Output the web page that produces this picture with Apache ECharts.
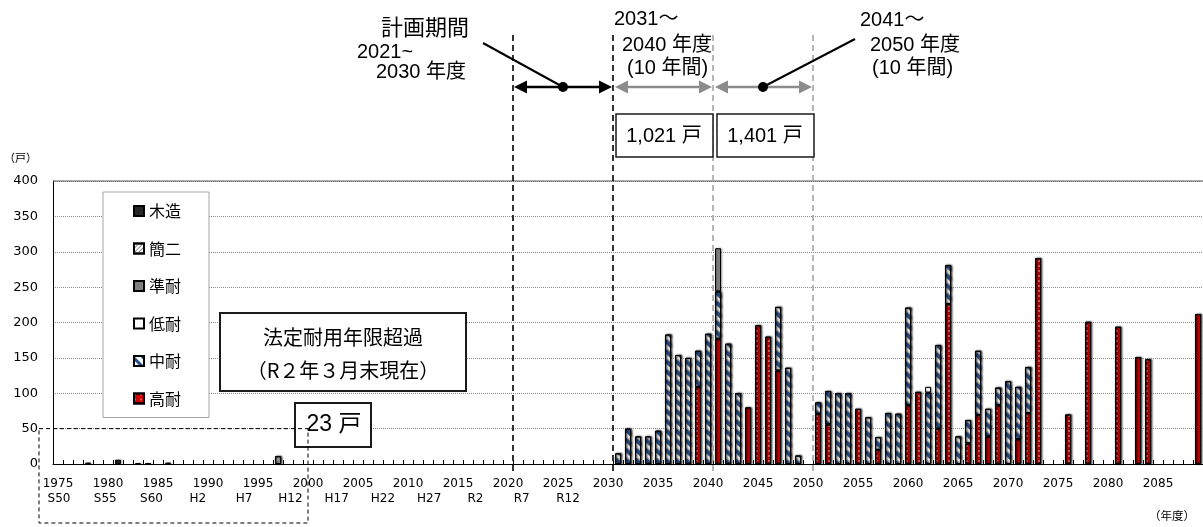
<!DOCTYPE html>
<html>
<head>
<meta charset="utf-8">
<script src="https://cdn.jsdelivr.net/npm/echarts@6/dist/echarts.min.js"></script>
<style>
  html, body { margin: 0; padding: 0; background: #fff; }
  #chart { width: 1203px; height: 527px; }
</style>
</head>
<body>
<div id="chart"></div>
<script>
// ---- data -------------------------------------------------------------
const firstYear = 1975;
const lastYear = 2089;
const years = [];
for (let y = firstYear; y <= lastYear; y++) years.push(String(y));

// Japanese era labels shown under every fifth year (1975 … 2030)
const eraLabels = ['S50', 'S55', 'S60', 'H2', 'H7', 'H12', 'H17', 'H22', 'H27', 'R2', 'R7', 'R12'];

// dwellings reaching the end of their statutory service life, by fiscal year
const mokuzou = { 1978: 2, 1981: 6, 1983: 1, 1984: 1, 1986: 2 };          // 木造
const kanni = { 1997: 11 };                                                 // 簡二
const juntai = { 2041: 61 };                                                // 準耐
const teitai = { 2062: 8 };                                                 // 低耐
const chutai = {                                                            // 中耐
  2031: 15, 2032: 50, 2033: 39, 2034: 39, 2035: 47, 2036: 183, 2037: 154, 2038: 150,
  2039: 51, 2040: 184, 2041: 67, 2042: 170, 2043: 100, 2047: 90, 2048: 136, 2049: 12,
  2051: 16, 2052: 47, 2053: 100, 2054: 100, 2056: 66, 2057: 18, 2058: 72, 2059: 71,
  2060: 138, 2062: 101, 2063: 118, 2064: 55, 2065: 39, 2066: 33, 2067: 91, 2068: 39,
  2069: 25, 2070: 117, 2071: 74, 2072: 65
};
const kotai = {                                                             // 高耐
  2039: 109, 2041: 177, 2044: 80, 2045: 196, 2046: 180, 2047: 132,
  2051: 71, 2052: 56, 2055: 78, 2057: 20, 2060: 83, 2061: 102, 2063: 50, 2064: 226,
  2066: 29, 2067: 69, 2068: 39, 2069: 83, 2071: 35, 2072: 72, 2073: 291,
  2076: 70, 2078: 201, 2081: 194, 2083: 151, 2084: 148, 2089: 212
};

const yTicks = { min: 0, max: 400, step: 50 };
const periodTotals = ['1,021 戸', '1,401 戸'];
const pastTotal = '23 戸';

// ---- styles -------------------------------------------------------------
const NUM_FONT = "'Liberation Sans','Noto Sans CJK JP',sans-serif";
const JP_FONT = "'Noto Sans CJK JP','Liberation Sans',sans-serif";
const AXIS_FONT = "'DejaVu Sans',sans-serif";

const toData = map => years.map(y => (map[y] != null ? map[y] : null));

const baseItem = {
  borderColor: '#000',
  borderWidth: 1,
  shadowColor: 'rgba(0,0,0,0.35)',
  shadowBlur: 2,
  shadowOffsetX: 1
};

function barSeries(name, map, item) {
  return {
    name,
    type: 'bar',
    stack: 'total',
    barWidth: 6,
    data: toData(map),
    itemStyle: Object.assign({}, baseItem, item)
  };
}

// stacked bottom → top
const series = [
  barSeries('高耐', kotai, {
    color: '#CC0000',
    decal: { symbol: 'circle', symbolSize: 0.7, color: '#ffffff', dashArrayX: [2, 4], dashArrayY: [2, 2.5] }
  }),
  barSeries('中耐', chutai, {
    color: '#ffffff',
    decal: { symbol: 'rect', symbolSize: 1, color: '#1F4E8C', dashArrayX: [1, 0], dashArrayY: [2.2, 3.8], rotation: Math.PI / 4 }
  }),
  barSeries('低耐', teitai, { color: '#ffffff' }),
  barSeries('準耐', juntai, { color: '#808080' }),
  barSeries('簡二', kanni, {
    color: '#ffffff',
    decal: { symbol: 'rect', symbolSize: 1, color: '#8c8c8c', dashArrayX: [1, 0], dashArrayY: [1, 2], rotation: -Math.PI / 4 }
  }),
  barSeries('木造', mokuzou, { color: '#262626' })
];

const chart = echarts.init(document.getElementById('chart'), null, { renderer: 'canvas' });

chart.setOption({
  animation: false,
  backgroundColor: '#fff',
  grid: [
    { left: 53, right: 0, top: 181, bottom: 63 },
    { left: 59, right: 635, top: 181, bottom: 63 }
  ],
  legend: {
    data: ['木造', '簡二', '準耐', '低耐', '中耐', '高耐'],
    orient: 'vertical',
    left: 103,
    top: 192,
    itemWidth: 10,
    itemHeight: 10,
    itemGap: 19.5,
    padding: [10, 28, 10, 30],
    backgroundColor: '#fff',
    borderColor: '#a6a6a6',
    borderWidth: 1,
    icon: 'rect',
    textStyle: { fontSize: 16, lineHeight: 18, fontFamily: JP_FONT, color: '#000' }
  },
  xAxis: [
    {
      gridIndex: 0,
      type: 'category',
      data: years,
      boundaryGap: true,
      axisLine: { lineStyle: { color: '#000', width: 1 } },
      axisTick: { show: true, inside: true, length: 4, interval: 0, lineStyle: { color: '#000' } },
      axisLabel: { interval: 4, fontSize: 12, fontFamily: AXIS_FONT, color: '#000', margin: 14 },
      splitLine: { show: false }
    },
    {
      gridIndex: 1,
      type: 'category',
      data: eraLabels,
      boundaryGap: false,
      axisLine: { show: false },
      axisTick: { show: false },
      axisLabel: { interval: 0, fontSize: 12, fontFamily: AXIS_FONT, color: '#000', margin: 29 },
      splitLine: { show: false }
    }
  ],
  yAxis: [
    {
      gridIndex: 0,
      type: 'value',
      min: yTicks.min,
      max: yTicks.max,
      interval: yTicks.step,
      axisLine: { show: true, lineStyle: { color: '#000', width: 1 } },
      axisTick: { show: false },
      axisLabel: { fontSize: 13, fontFamily: AXIS_FONT, color: '#000', margin: 15 },
      splitLine: { show: true, lineStyle: { type: 'dotted', color: '#8a8a8a', width: 1 } }
    },
    { gridIndex: 1, type: 'value', show: false, min: 0, max: 1 }
  ],
  series
});

// ---- annotations placed on the axis scales ------------------------------
const px = y => chart.convertToPixel({ xAxisIndex: 0 }, String(y));
const py = v => chart.convertToPixel({ yAxisIndex: 0 }, v);
const edgeAfter = y => (px(y) + px(y + 1)) / 2;

const x2020 = edgeAfter(2020);
const x2030 = edgeAfter(2030);
const x2040 = edgeAfter(2040);
const x2050 = edgeAfter(2050);
const y0 = py(0);
const yTop = py(yTicks.max);
const y50 = py(50);
const xAxisLeft = px(firstYear) - (px(firstYear + 1) - px(firstYear)) / 2;

const BLACK = '#000';
const GREY = '#8c8c8c';
const arrowY = 87;

function vDash(x, color) {
  return { type: 'line', z: 50, shape: { x1: x, y1: 35, x2: x, y2: y0 + 9 },
    style: { stroke: color, lineWidth: 1.6, lineDash: [6, 4] } };
}
function arrow(x1, x2, y, color) {
  const hl = 13, hh = 6.5;
  return [
    { type: 'line', z: 60, shape: { x1: x1 + hl - 1, y1: y, x2: x2 - hl + 1, y2: y }, style: { stroke: color, lineWidth: 2.5 } },
    { type: 'polygon', z: 60, shape: { points: [[x1, y], [x1 + hl, y - hh], [x1 + hl, y + hh]] }, style: { fill: color } },
    { type: 'polygon', z: 60, shape: { points: [[x2, y], [x2 - hl, y - hh], [x2 - hl, y + hh]] }, style: { fill: color } }
  ];
}
function text(str, x, y, size, opts) {
  return Object.assign({ type: 'text', z: 70,
    style: Object.assign({ text: str, x, y, fontSize: size, fontFamily: NUM_FONT, fill: '#000',
      align: 'left', verticalAlign: 'middle' }, opts || {}) });
}
function box(x, y, w, h, lw) {
  return { type: 'rect', z: 65, shape: { x, y, width: w, height: h },
    style: { fill: '#fff', stroke: '#1a1a1a', lineWidth: lw } };
}

const midBlack = (x2020 + x2030) / 2;
const midGrey = (x2040 + x2050) / 2;

const elements = [
  // top border of the plot
  { type: 'line', z: 40, shape: { x1: xAxisLeft, y1: yTop, x2: 1203, y2: yTop }, style: { stroke: '#595959', lineWidth: 1 } },
  vDash(x2020, BLACK), vDash(x2030, BLACK), vDash(x2040, '#a6a6a6'), vDash(x2050, '#a6a6a6'),
  ...arrow(x2020 + 1, x2030 - 1, arrowY, BLACK),
  ...arrow(x2030 + 2, x2040 - 1, arrowY, GREY),
  ...arrow(x2040 + 2, x2050 - 1, arrowY, GREY),
  { type: 'line', z: 61, shape: { x1: 483, y1: 43, x2: midBlack, y2: arrowY }, style: { stroke: BLACK, lineWidth: 2 } },
  { type: 'line', z: 61, shape: { x1: midGrey, y1: arrowY, x2: 855, y2: 39 }, style: { stroke: BLACK, lineWidth: 2 } },
  { type: 'circle', z: 62, shape: { cx: midBlack, cy: arrowY, r: 5 }, style: { fill: BLACK } },
  { type: 'circle', z: 62, shape: { cx: midGrey, cy: arrowY, r: 5 }, style: { fill: BLACK } },

  text('計画期間', 425, 27, 22, { align: 'center', fontFamily: JP_FONT }),
  text('2021~', 357, 52, 20),
  text('2030 年度', 376, 72, 20),
  text('2031～', 614, 19, 20),
  text('2040 年度', 622, 45, 20),
  text('(10 年間)', 627, 68, 20),
  text('2041～', 860, 20, 20),
  text('2050 年度', 870, 45, 20),
  text('(10 年間)', 872, 68, 20),

  box(x2030 + 3, 114, x2040 - x2030 - 3, 43, 1.5),
  text(periodTotals[0], (x2030 + x2040) / 2 + 1, 136, 20, { align: 'center' }),
  box(x2040 + 4, 114, x2050 - x2040 - 3, 43, 1.5),
  text(periodTotals[1], (x2040 + x2050) / 2 + 2, 136, 20, { align: 'center' }),

  // statutory-life note
  box(220, 313, 246, 78, 2),
  text('法定耐用年限超過', 343, 337, 20, { align: 'center', fontFamily: JP_FONT }),
  text('（R２年３月末現在）', 343, 370, 20, { align: 'center', fontFamily: JP_FONT }),

  // already-expired stock up to 2000
  box(295, 403, 76, 44, 2),
  { type: 'polyline', z: 66, shape: { points: [[39, y50], [px(2000), y50], [px(2000), 523], [39, 523], [39, y50]] },
    style: { stroke: BLACK, lineWidth: 1, lineDash: [4, 3], fill: null } },
  text(pastTotal, 334, 425, 23, { align: 'center' }),

  text('（戸）', 4, 158, 11, { fontFamily: JP_FONT }),
  text('（年度）', 1172, 516, 11.5, { align: 'center', fontFamily: JP_FONT })
];

chart.setOption({ graphic: { elements } });
</script>
</body>
</html>
